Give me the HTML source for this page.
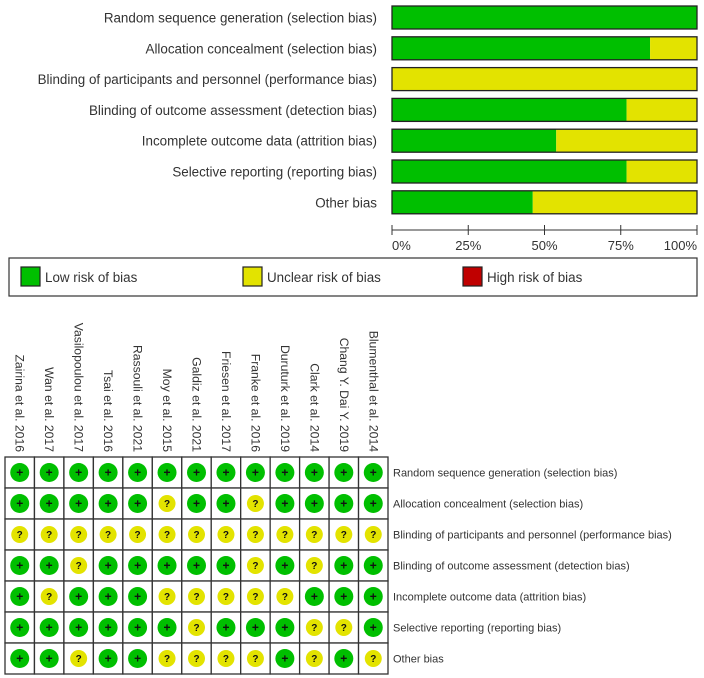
<!DOCTYPE html>
<html><head><meta charset="utf-8"><style>
html,body{margin:0;padding:0;background:#fff;}
svg{display:block;font-family:"Liberation Sans",Arial,sans-serif;}
</style></head><body>
<svg id="chart" width="704" height="678" viewBox="0 0 704 678"></svg>
<script>
const domains = ["Random sequence generation (selection bias)","Allocation concealment (selection bias)","Blinding of participants and personnel (performance bias)","Blinding of outcome assessment (detection bias)","Incomplete outcome data (attrition bias)","Selective reporting (reporting bias)","Other bias"];
const studies = ["Zairina et al. 2016","Wan et al. 2017","Vasilopoulou et al. 2017","Tsai et al. 2016","Rassouli et al. 2021","Moy et al. 2015","Galdiz et al. 2021","Friesen et al. 2017","Franke et al. 2016","Duruturk et al. 2019","Clark et al. 2014","Chang Y. Dai Y. 2019","Blumenthal et al. 2014"];
const judgments = [
 "+++++++++++++",
 "+++++?++?++++",
 "?????????????",
 "++?+++++?+?++",
 "+?+++?????+++",
 "++++++?+++??+",
 "++?++????+?+?"
];
const ticks = ["0%","25%","50%","75%","100%"];
const tickVals = [0,25,50,75,100];

const NS="http://www.w3.org/2000/svg";
const svg=document.getElementById('chart');
function mk(tag,attrs,parent){const e=document.createElementNS(NS,tag);for(const k in attrs)e.setAttribute(k,attrs[k]);(parent||svg).appendChild(e);return e;}
const G="#00bf00", Y="#e3e300", R="#c00000";

const bx0=392,bx1=697;
const xs=v=>bx0+(bx1-bx0)*v/100;
const by=i=>6+i*30.8;
const bh=23;
domains.forEach((d,i)=>{
  const n=judgments[i].length;
  const low=[...judgments[i]].filter(c=>c==='+').length/n*100;
  const t=mk('text',{x:377,y:by(i)+bh/2+5,'text-anchor':'end','font-size':'13.4',fill:'#333'});
  t.textContent=d;
  
  
  const g=mk('rect',{x:xs(0),y:by(i),width:xs(low)-xs(0),height:bh,fill:G});
  
  
  const yb=mk('rect',{x:xs(low),y:by(i),width:xs(100)-xs(low),height:bh,fill:Y});
  
  
  const o=mk('rect',{x:xs(0),y:by(i),width:xs(100)-xs(0),height:bh,fill:'none',stroke:'#222','stroke-width':1.3});
  
  
});
const ax=mk('line',{x1:bx0,x2:bx1,y1:230,y2:230,stroke:'#333','stroke-width':1});


tickVals.forEach((v,i)=>{
  const l=mk('line',{x1:xs(v),x2:xs(v),y1:225,y2:235,stroke:'#333','stroke-width':1});
  
  
  const anchor=i===0?'start':(i===tickVals.length-1?'end':'middle');
  const t=mk('text',{x:xs(v),y:250,'text-anchor':anchor,'font-size':'13',fill:'#333'});
  t.textContent=ticks[i];
  
  
});

const lg=mk('rect',{x:9,y:258,width:688,height:38,fill:'#fff',stroke:'#333','stroke-width':1.2});


[[21,G,"Low risk of bias"],[243,Y,"Unclear risk of bias"],[463,R,"High risk of bias"]].forEach(([x,c,s])=>{
  const r=mk('rect',{x:x,y:267,width:19,height:19,fill:c,stroke:'#222','stroke-width':1.2});
  
  
  const t=mk('text',{x:x+24,y:282,'font-size':'13.4',fill:'#333'});
  t.textContent=s;
  
  
});

const gx0=5,gx1=388,gy0=457,gy1=674;
const cw=(gx1-gx0)/studies.length, rh=(gy1-gy0)/domains.length;
studies.forEach((s,j)=>{
  const cx=gx0+cw*(j+0.5);
  const t=mk('text',{x:0,y:0,'font-size':'12.2',fill:'#333',transform:`translate(${cx-4},452) rotate(90)`});
  t.textContent=s;
  
  
  const len=t.getComputedTextLength();
  t.setAttribute('x',-len);
});
domains.forEach((d,i)=>{
  const cy=gy0+rh*(i+0.5);
  const t=mk('text',{x:393,y:cy+4,'font-size':'11','fill':'#333'});
  t.textContent=d;
  
  
  studies.forEach((s,j)=>{
    const cx=gx0+cw*(j+0.5);
    const c=judgments[i][j];
    const cell=mk('rect',{x:gx0+cw*j,y:gy0+rh*i,width:cw,height:rh,fill:'#fff',stroke:'#333','stroke-width':1.3});
    
    
    const circ=mk('circle',{cx:cx,cy:cy,r:c==='+'?9.5:8.5,fill:c==='+'?G:Y});
    
    
    const sym=mk('text',{x:cx,y:cy+(c==='+'?4:3.5),'text-anchor':'middle','font-size':c==='+'?'12':'10','font-weight':'bold',fill:'#111'});
    sym.textContent=c==='+'?'+':'?';
    
    
  });
});
</script>
</body></html>
